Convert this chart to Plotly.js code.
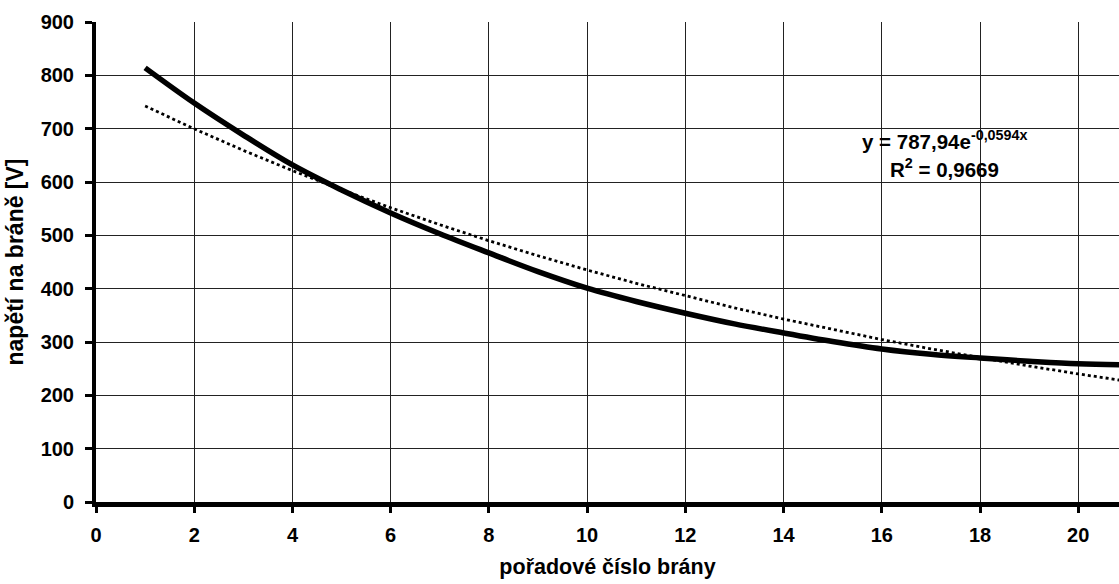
<!DOCTYPE html>
<html>
<head>
<meta charset="utf-8">
<script src="https://cdn.plot.ly/plotly-3.0.1.min.js"></script>
<style>html,body{margin:0;padding:0;background:#fff;}#chart{width:1119px;height:584px;}</style>
</head>
<body>
<div id="chart"></div>
<script>
// measured curve (poradové číslo brány -> napětí na bráně)
const gateX = [1,2,3,4,5,6,7,8,9,10,11,12,13,14,15,16,17,18,19,20,21];
const voltage = [814,748,688,632,585,542,503,467,432,401,376,354,334,317,301,287,277,270,264,259,257];
// exponential trendline values
const trendX = [1,2,3,4,5,6,7,8,9,10,11,12,13,14,15,16,17,18,19,20,21];
const trendY = [742.5,699.7,659.3,621.3,585.5,551.7,519.9,489.9,461.7,435.0,410.0,386.3,364.0,343.0,323.3,304.6,287.1,270.5,254.9,240.2,226.4];
const xTicks = [0,2,4,6,8,10,12,14,16,18,20];
const yTicks = [0,100,200,300,400,500,600,700,800,900];
const eqText = "y = 787,94e<sup>-0,0594x</sup>";
const r2Text = "R<sup>2</sup> = 0,9669";

const font = {family: "Liberation Sans, Arial, sans-serif", color: "#000"};

const data = [
  {x: trendX, y: trendY, mode: "lines", line: {color: "#000", width: 2.8, dash: "dot"}, hoverinfo: "skip"},
  {x: gateX, y: voltage, mode: "lines", line: {color: "#000", width: 5.5, shape: "spline"}, hoverinfo: "skip"}
];

const layout = {
  width: 1119, height: 584,
  margin: {l: 96, r: 0, t: 22, b: 82},
  paper_bgcolor: "#fff", plot_bgcolor: "#fff",
  showlegend: false,
  font: Object.assign({size: 18}, font),
  xaxis: {
    range: [0, 20.83], tickvals: xTicks, ticktext: xTicks.map(String),
    showgrid: true, gridcolor: "#222", gridwidth: 1,
    zeroline: false, showline: true, linecolor: "#000", linewidth: 5,
    ticks: "outside", ticklen: 6, tickwidth: 3, tickcolor: "#000",
    ticklabelstandoff: 5,
    tickfont: Object.assign({size: 20, weight: "bold"}, font),
    title: {text: "<b>pořadové číslo brány</b>", font: Object.assign({size: 21.5}, font), standoff: 15}
  },
  yaxis: {
    range: [0, 900], tickvals: yTicks, ticktext: yTicks.map(String),
    showgrid: true, gridcolor: "#222", gridwidth: 1,
    zeroline: false, showline: true, linecolor: "#000", linewidth: 4,
    ticks: "outside", ticklen: 7, tickwidth: 3, tickcolor: "#000",
    ticklabelstandoff: 7,
    tickfont: Object.assign({size: 20, weight: "bold"}, font),
    title: {text: "<b>napětí na bráně [V]</b>", font: Object.assign({size: 23}, font), standoff: 12}
  },
  annotations: [
    {x: 15.56, y: 678, xref: "x", yref: "y", xanchor: "left", text: "<b>" + eqText + "</b>", showarrow: false,
     font: Object.assign({size: 20.5}, font)},
    {x: 16.13, y: 626, xref: "x", yref: "y", xanchor: "left", text: "<b>" + r2Text + "</b>", showarrow: false,
     font: Object.assign({size: 20.5}, font)}
  ]
};

Plotly.newPlot("chart", data, layout, {displayModeBar: false, staticPlot: true});
</script>
</body>
</html>
